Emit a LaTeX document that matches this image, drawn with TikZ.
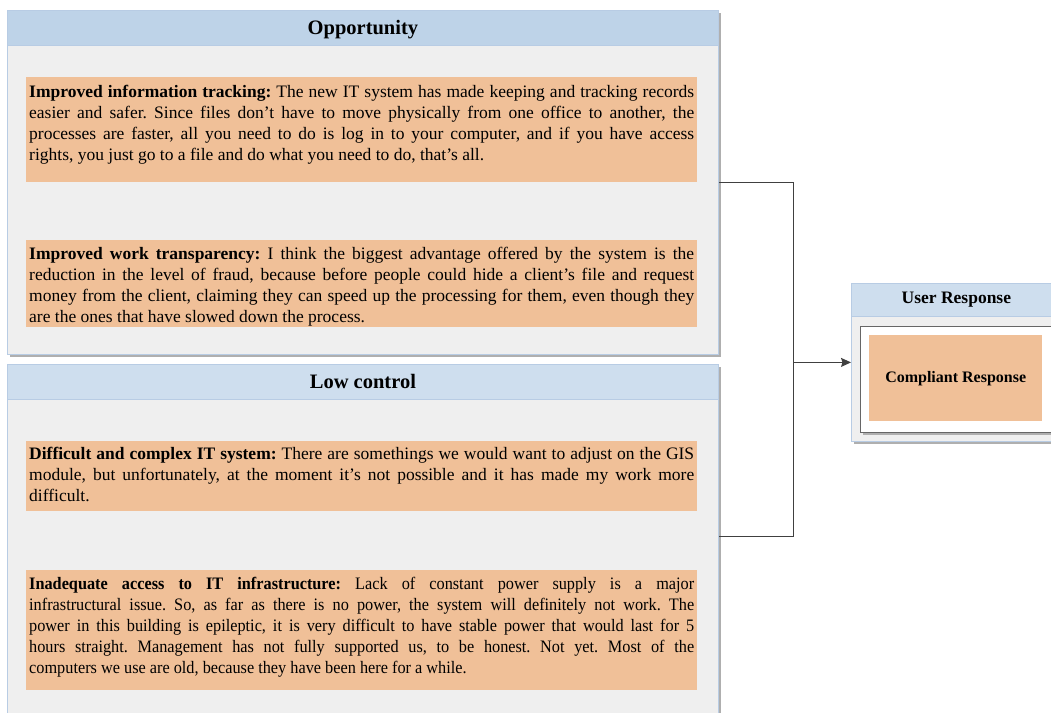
\documentclass[tikz,border=0pt]{standalone}
\usepackage{fontspec}
\setmainfont{Liberation Serif}
\usetikzlibrary{shadows,arrows.meta}

\definecolor{bodygray}{RGB}{239,239,239}
\definecolor{headblueA}{RGB}{190,211,232}
\definecolor{headblueB}{RGB}{206,222,238}
\definecolor{frameblue}{RGB}{184,204,228}
\definecolor{quotefill}{RGB}{240,192,152}
\definecolor{shadowgray}{RGB}{175,175,175}
\definecolor{linkgray}{RGB}{64,64,64}

% text box with a fixed height, text starting from the top
\newcommand{\quotebox}[3]{\parbox[c][#1][t]{665pt}{\fontsize{17.5}{21}\selectfont
  \frenchspacing\hyphenpenalty=10000\vspace*{#2}#3}}

\tikzset{
  panel/.style={draw=frameblue, fill=bodygray, line width=0.8pt, anchor=north west,
    inner sep=0pt, drop shadow={shadow xshift=3pt, shadow yshift=-3pt, fill=shadowgray, opacity=1}},
  panelhead/.style={draw=frameblue, line width=0.8pt, anchor=north west, inner sep=0pt,
    font=\fontsize{20.5}{24}\selectfont\bfseries},
  quote/.style={fill=quotefill, anchor=north west, inner xsep=3pt, inner ysep=0pt},
  link/.style={draw=linkgray, line width=1pt},
}

\begin{document}
\begin{tikzpicture}[x=1pt, y=-1pt]
\useasboundingbox (0,0) rectangle (1051,712);
\clip (0,0) rectangle (1051,712);
\fill[white] (0,0) rectangle (1051,712);

% Opportunity panel
\node[panel, minimum width=711pt, minimum height=344pt] (opp) at (7,10) {};
\node[panelhead, fill=headblueA, minimum width=711pt, minimum height=35pt, text depth=1pt] (opph) at (7,10) {Opportunity};
\node[quote] (q1) at (26,77) {\quotebox{105pt}{8pt}{\textbf{Improved information tracking:} The new IT system has made keeping and tracking records\linebreak
easier and safer. Since files don’t have to move physically from one office to another, the\linebreak
processes are faster, all you need to do is log in to your computer, and if you have access\linebreak
rights, you just go to a file and do what you need to do, that’s all.}};
\node[quote] (q2) at (26,240) {\quotebox{87pt}{7pt}{\textbf{Improved work transparency:} I think the biggest advantage offered by the system is the\linebreak
reduction in the level of fraud, because before people could hide a client’s file and request\linebreak
money from the client, claiming they can speed up the processing for them, even though they\linebreak
are the ones that have slowed down the process.}};

% Low control panel
\node[panel, minimum width=711pt, minimum height=400pt] (low) at (7,364) {};
\node[panelhead, fill=headblueB, minimum width=711pt, minimum height=35pt, text depth=1pt] (lowh) at (7,364) {Low control};
\node[quote] (q3) at (26,441) {\quotebox{70pt}{6pt}{\textbf{Difficult and complex IT system:} There are somethings we would want to adjust on the GIS\linebreak
module, but unfortunately, at the moment it’s not possible and it has made my work more\linebreak
difficult.}};
\node[quote] (q4) at (26,570) {\quotebox{120pt}{7pt}{\addfontfeature{FakeStretch=0.93}\textbf{Inadequate access to IT infrastructure:} Lack of constant power supply is a major\linebreak
infrastructural issue. So, as far as there is no power, the system will definitely not work. The\linebreak
power in this building is epileptic, it is very difficult to have stable power that would last for 5\linebreak
hours straight. Management has not fully supported us, to be honest. Not yet. Most of the\linebreak
computers we use are old, because they have been here for a while.}};

% User Response panel
\node[panel, minimum width=230pt, minimum height=158pt] (ur) at (851,283) {};
\node[panelhead, fill=headblueB, minimum width=230pt, minimum height=33pt,
  font=\fontsize{17.5}{20}\selectfont\bfseries] (urh) at (851,283) {\hspace*{-20pt}User Response};
\node[anchor=north west, draw=black!60, fill=white, line width=1.2pt, inner sep=0pt,
  minimum width=220pt, minimum height=106pt,
  drop shadow={shadow xshift=2pt, shadow yshift=-2pt, fill=shadowgray, opacity=1}] (urbox) at (860,326) {};
\node[anchor=north west, fill=quotefill, minimum width=173pt, minimum height=86pt, inner sep=0pt,
  font=\fontsize{16}{18}\selectfont\bfseries] (resp) at (869,335) {Compliant Response};

% connectors
\coordinate (low-out) at ([yshift=-172pt]low.north east);
\coordinate (join) at ([xshift=75pt]opp.east);
\draw[link] (opp.east) -| (join |- low-out) -- (low-out);
\draw[link, -{Stealth[length=10pt, width=9pt, inset=1.5pt]}] (join |- ur.west) -- (ur.west);
\end{tikzpicture}
\end{document}
